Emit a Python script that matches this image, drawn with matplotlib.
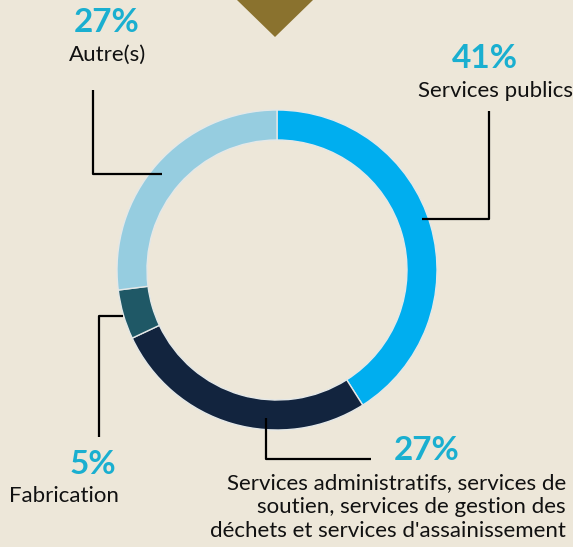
import matplotlib
matplotlib.use("Agg")
import matplotlib.pyplot as plt
from matplotlib.patches import Polygon

plt.rcParams['font.family'] = ['Lato', 'DejaVu Sans']

# data
labels = ['Services publics',
          'Services administratifs, services de\nsoutien, services de gestion des\ndéchets et services d\'assainissement',
          'Fabrication',
          'Autre(s)']
shares = [41, 27, 5, 27]
pct_labels = ['41%', '27%', '5%', '27%']
colors = ['#00AEEF', '#12243E', '#1F5866', '#96CDE0']

bg = '#EDE7D9'
pct_color = '#1AAFD0'

fig = plt.figure(figsize=(5.73, 5.47), dpi=100)
fig.patch.set_facecolor(bg)
ax = fig.add_axes([0, 0, 1, 1])
ax.set_facecolor(bg)

# y axis is inverted, so start at -90 and go "counterclock" to look clockwise from top
ax.pie(shares, colors=colors, startangle=-90, counterclock=True,
       center=(277, 270), radius=160, frame=True,
       wedgeprops=dict(width=30, edgecolor='#E4E8E8', linewidth=1))
ax.set_xlim(0, 573)
ax.set_ylim(547, 0)
ax.set_aspect('equal')
ax.axis('off')

# triangle at top
ax.add_patch(Polygon([(237, 0), (313, 0), (275, 37)], closed=True,
                     facecolor='#8A722E', edgecolor='none'))

line_kw = dict(color='black', linewidth=1.6, solid_capstyle='butt')

# leader lines
ax.plot([489, 489, 422], [111, 219, 219], **line_kw)
ax.plot([266, 266, 371], [418, 459, 459], **line_kw)
ax.plot([99, 99, 123], [437, 316, 316], **line_kw)
ax.plot([93, 93, 162], [90, 174, 174], **line_kw)

pct_kw = dict(color=pct_color, fontsize=24, fontweight='bold', ha='center', va='center')
lab_kw = dict(color='#111111', fontsize=16, va='center')

ax.text(485, 58, pct_labels[0], **pct_kw)
ax.text(495, 91, labels[0], ha='center', **lab_kw)

ax.text(427, 450, pct_labels[1], **pct_kw)
ax.text(566, 507, labels[1], ha='right', linespacing=1.22, **lab_kw)

ax.text(93, 465, pct_labels[2], **pct_kw)
ax.text(64, 496, labels[2], ha='center', **lab_kw)

ax.text(107, 23, pct_labels[3], **pct_kw)
ax.text(108, 55, labels[3], ha='center', **lab_kw)

fig.savefig('out.png', dpi=100, facecolor=bg)
